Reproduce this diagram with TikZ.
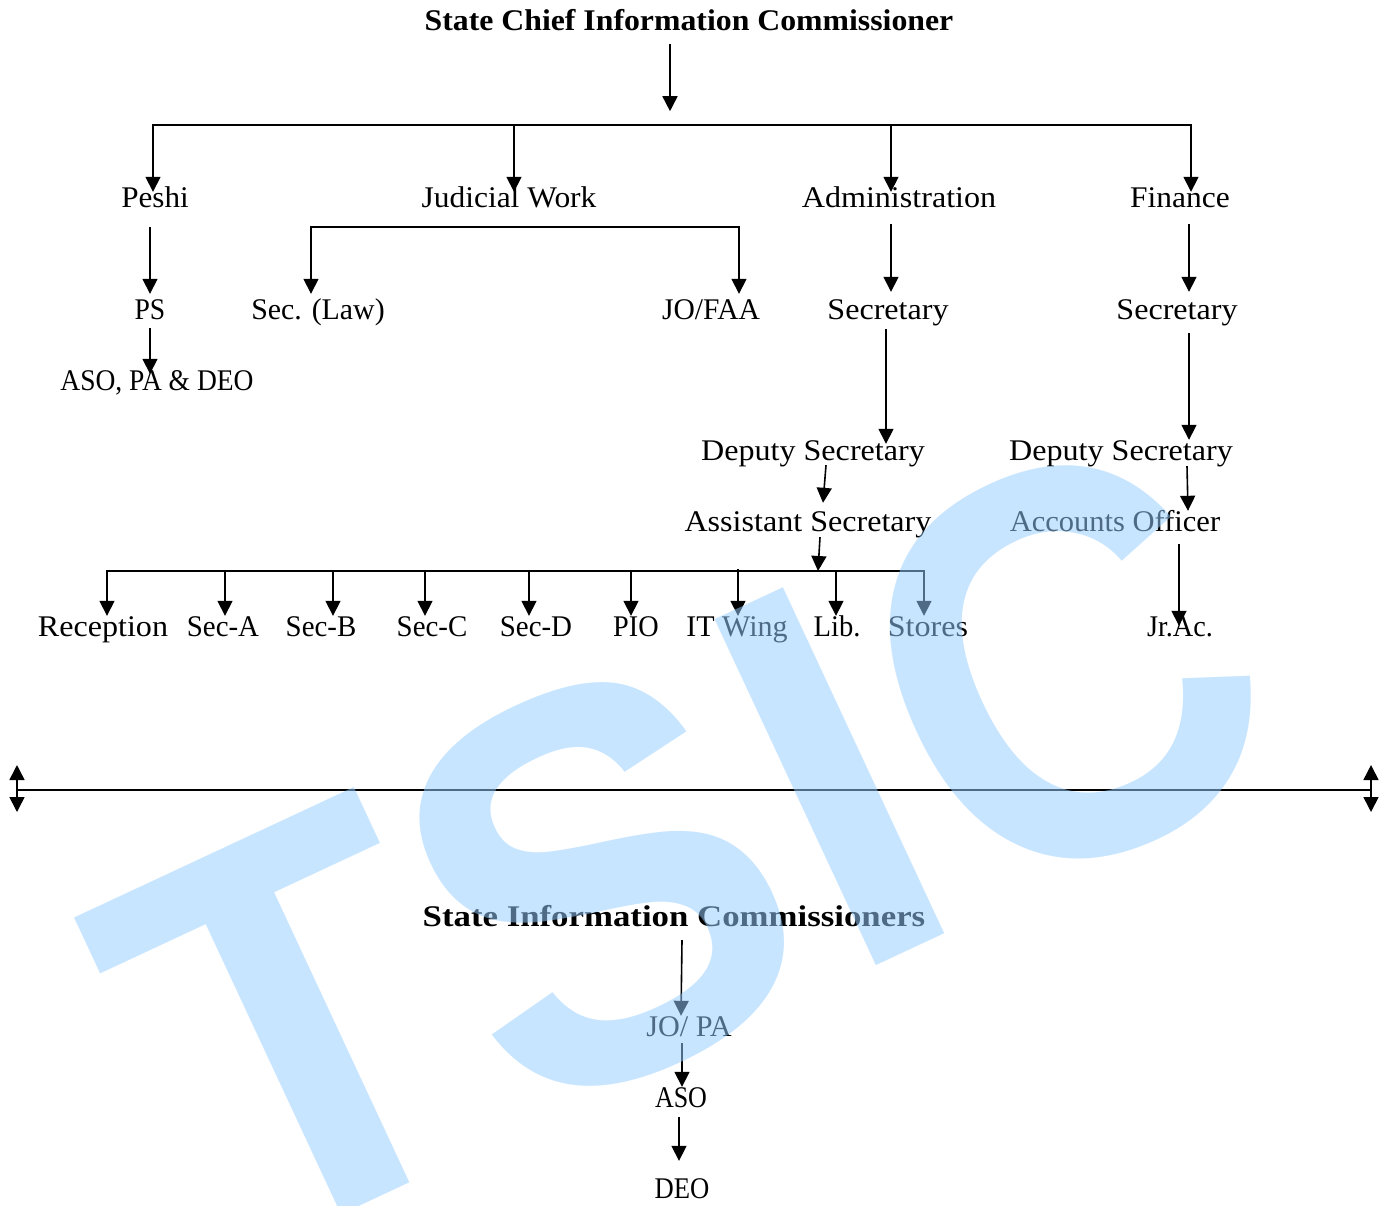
\documentclass[tikz,border=0pt]{standalone}
\usepackage{graphicx}
\usepackage{fontspec}
\setmainfont[FakeStretch=1.07]{Liberation Serif}
\newfontfamily\wmfont{Liberation Sans}
\usetikzlibrary{arrows.meta}
\definecolor{wmblue}{RGB}{150,205,255}
\newcommand{\nx}[2]{\scalebox{#1}[1]{#2}}
\tikzset{
  lbl/.style={anchor=base,inner sep=0pt,text height=21pt,text depth=7pt,font=\fontsize{30}{32}\selectfont},
  ttl/.style={lbl,font=\fontsize{30}{32}\selectfont\bfseries},
  ln/.style={line width=1.6pt},
  arr/.style={line width=1.6pt,-{Triangle[length=15pt,width=15pt]}},
  wm/.style={anchor=base west,inner sep=0pt,rotate=25,text=wmblue,text opacity=.52,font=\wmfont\bfseries\fontsize{555}{555}\selectfont}
}
\begin{document}
\begin{tikzpicture}[x=1pt,y=-1pt]
\useasboundingbox (0,0) rectangle (1389,1205);
\clip (0,0) rectangle (1389,1205);
% labels
\node[ttl] (title) at (689,30) {\nx{.99}{State Chief Information Commissioner}};
\node[ttl] (sic) at (674,926) {\nx{1.084}{State Information Commissioners}};
\node[lbl] (peshi) at (155,207) {\nx{.97}{Peshi}};
\node[lbl] (judicial) at (509,207) {\nx{.98}{Judicial Work}};
\node[lbl] (admin) at (899,207) {Administration};
\node[lbl] (finance) at (1180,207) {\nx{.98}{Finance}};
\node[lbl] (ps) at (150,319) {\nx{.86}{PS}};
\node[lbl] (seclaw) at (318,319) {\nx{.93}{Sec. (Law)}};
\node[lbl] (jofaa) at (711,319) {\nx{.92}{JO/FAA}};
\node[lbl] (secA) at (888,319) {Secretary};
\node[lbl] (secF) at (1177,319) {Secretary};
\node[lbl] (asopa) at (157,390) {\nx{.857}{ASO, PA \& DEO}};
\node[lbl] (depA) at (813,460) {Deputy Secretary};
\node[lbl] (depF) at (1121,460) {Deputy Secretary};
\node[lbl] (asst) at (808,531) {Assistant Secretary};
\node[lbl] (acc) at (1115,531) {\nx{.95}{Accounts Officer}};
\node[lbl] (recep) at (103,636) {Reception};
\node[lbl] (seca) at (223,636) {\nx{.90}{Sec-A}};
\node[lbl] (secb) at (321,636) {\nx{.90}{Sec-B}};
\node[lbl] (secc) at (432,636) {\nx{.90}{Sec-C}};
\node[lbl] (secd) at (536,636) {\nx{.90}{Sec-D}};
\node[lbl] (pio) at (636,636) {\nx{.88}{PIO}};
\node[lbl] (itwing) at (737,636) {\nx{.935}{IT Wing}};
\node[lbl] (lib) at (837,636) {\nx{.89}{Lib.}};
\node[lbl] (stores) at (928,636) {Stores};
\node[lbl] (jrac) at (1180,636) {\nx{.88}{Jr.Ac.}};
\node[lbl] (jopa) at (689,1036) {\nx{.94}{JO/ PA}};
\node[lbl] (aso) at (681,1107) {\nx{.81}{ASO}};
\node[lbl] (deo) at (682,1198) {\nx{.83}{DEO}};
% junctions
\coordinate (busL) at (153,125);
\coordinate (busJ) at (514,125);
\coordinate (busA) at (891,125);
\coordinate (busR) at (1191,125);
\coordinate (judL) at (311,227);
\coordinate (judR) at (739,227);
\coordinate (b2L) at (107,571);
\coordinate (b2R) at (924,571);
\coordinate (b2M) at (818,571);
\coordinate (hL) at (17,790);
\coordinate (hR) at (1371,790);
\coordinate (hLu) at (17,765);
\coordinate (hLd) at (17,812);
\coordinate (hRu) at (1371,765);
\coordinate (hRd) at (1371,812);
% top
\draw[arr] ([shift={(-19,7)}]title.south) -- ([shift={(-19,74)}]title.south);
\draw[ln,line cap=rect] (busL) -- (busR);
\draw[arr] (busL) -- ([shift={(-2,6)}]peshi.north);
\draw[arr] (busJ) -- ([shift={(5,6)}]judicial.north);
\draw[arr] (busA) -- ([shift={(-8,6)}]admin.north);
\draw[arr] (busR) -- ([shift={(11,6)}]finance.north);
\draw[arr] ([shift={(-5,13)}]peshi.south) -- ([shift={(0,-4)}]ps.north);
\draw[ln,line cap=rect] (judL) -- (judR);
\draw[arr] (judL) -- ([shift={(-7,-4)}]seclaw.north);
\draw[arr] (judR) -- ([shift={(28,-4)}]jofaa.north);
\draw[arr] ([shift={(-8,10)}]admin.south) -- ([shift={(3,-6)}]secA.north);
\draw[arr] ([shift={(9,10)}]finance.south) -- ([shift={(12,-6)}]secF.north);
\draw[arr] ([shift={(0,2)}]ps.south) -- ([shift={(-7,5)}]asopa.north);
\draw[arr] ([shift={(-2,3)}]secA.south) -- ([shift={(73,5)}]depA.north);
\draw[arr] ([shift={(12,7)}]secF.south) -- ([shift={(68,1)}]depF.north);
\draw[arr] ([shift={(13,-2)}]depA.south) -- ([shift={(15,-7)}]asst.north);
\draw[arr] ([shift={(66,-1)}]depF.south) -- ([shift={(73,1)}]acc.north);
\draw[arr] ([shift={(12,-1)}]asst.south) -- (b2M);
\draw[ln,line cap=rect] (b2L) -- (b2R);
\draw[arr] (b2L) -- ([shift={(4,1)}]recep.north);
\draw[arr] (b2L -| seca.north) ++(2,0) -- ([shift={(2,1)}]seca.north);
\draw[arr] (b2L -| secb.north) ++(12,0) -- ([shift={(12,1)}]secb.north);
\draw[arr] (b2L -| secc.north) ++(-7,0) -- ([shift={(-7,1)}]secc.north);
\draw[arr] (b2L -| secd.north) ++(-7,0) -- ([shift={(-7,1)}]secd.north);
\draw[arr] (b2L -| pio.north) ++(-5,0) -- ([shift={(-5,1)}]pio.north);
\draw[arr] (b2L -| itwing.north) ++(1,-2) -- ([shift={(1,1)}]itwing.north);
\draw[arr] (b2L -| lib.north) ++(-1,0) -- ([shift={(-1,1)}]lib.north);
\draw[arr] (b2R) -- ([shift={(-4,1)}]stores.north);
\draw[arr] ([shift={(64,6)}]acc.south) -- ([shift={(-1,11)}]jrac.north);
% long double-headed rule
\draw[ln] (hL) -- (hR);
\draw[arr] (hL) -- (hLu);
\draw[arr] (hL) -- (hLd);
\draw[arr] (hR) -- (hRu);
\draw[arr] (hR) -- (hRd);
% lower chain
\draw[arr] ([shift={(8,7)}]sic.south) -- ([shift={(-8,1)}]jopa.north);
\draw[arr] ([shift={(-7,0)}]jopa.south) -- ([shift={(1,1)}]aso.north);
\draw[arr] ([shift={(-2,3)}]aso.south) -- ([shift={(-3,-16)}]deo.north);
% watermark
\node[wm] (watermark) at (230,1267) {\nx{.945}{TS\kern8ptI\kern5pt\nx{.95}{C}}};
\end{tikzpicture}
\end{document}
